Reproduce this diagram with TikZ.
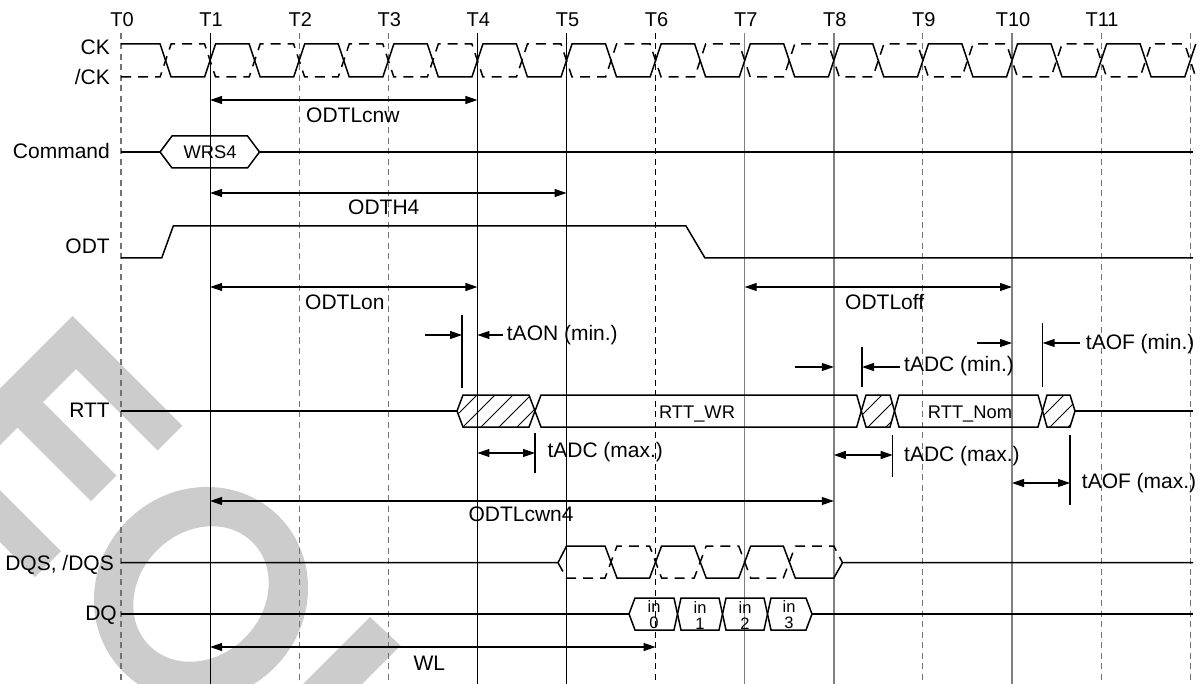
\documentclass[tikz,border=0pt]{standalone}
\usepackage{fontspec}
\setmainfont{Liberation Sans}
\usetikzlibrary{arrows.meta}
\begin{document}
\begin{tikzpicture}[x=1pt,y=-1pt,
  sig/.style={line width=1.5pt, line join=miter},
  sigd/.style={sig, dash pattern=on 10pt off 7pt},
  gsolid/.style={line width=1.1pt},
  ggray/.style={line width=1.4pt, black!50},
  gdash/.style={line width=1.1pt, black!55, dash pattern=on 6pt off 4.5pt},
  gdashk/.style={line width=1.1pt, dash pattern=on 6pt off 4.5pt},
  dimline/.style={line width=1.1pt},
  onetip/.style={dimline, -{Triangle[length=12pt,width=8pt]}},
  twotip/.style={dimline, {Triangle[length=12pt,width=8pt]}-{Triangle[length=12pt,width=8pt]}},
  lbl/.style={font=\fontsize{21}{21}\selectfont, inner sep=0pt},
  tlbl/.style={font=\fontsize{20}{20}\selectfont, inner sep=0pt, anchor=base},
  boxlbl/.style={font=\fontsize{18.3}{18.3}\selectfont, inner sep=0pt, anchor=base},
  inlbl/.style={font=\fontsize{16.5}{16}\selectfont, inner sep=0pt, anchor=south, align=center},
  wm/.style={fill=black!20, draw=none},
  hatchline/.style={line width=1pt},
]
\useasboundingbox (0,0) rectangle (1204,684);
\clip (0,0) rectangle (1204,684);
% watermark
\fill[wm] (72.7,316) -- (182.4,425.7) -- (157.5,450.5) -- (76,369) -- (43,402) -- (116.5,475.5) -- (91,501) -- (17.5,427.5) -- (-22.5,467.5) -- (61,551) -- (35,577) -- (-76.7,465.4) -- cycle;
\fill[wm, even odd rule, rotate around={45:(201,594)}] (201,594) ellipse [x radius=110, y radius=104] (201,594) ellipse [x radius=73, y radius=62];
\fill[wm] (370,617) -- (400.5,645.5) -- (223,823) -- (193.5,793.5) -- cycle;

% time grid
\foreach \i in {0,...,12} {
  \coordinate (T\i) at ({121+89.1*\i},33);
  \coordinate (B\i) at ({121+89.1*\i},684);
}
\foreach \i in {0,...,11} \node[tlbl] (lT\i) at ({122+89.1*\i},27) {T\i};
\foreach \i in {0,2,3,9,11,12} \draw[gdash] (T\i) -- (B\i);
\draw[gdashk] (T6) -- (B6);
\foreach \i in {1,4,5} \draw[gsolid] (T\i) -- (B\i);
\foreach \i in {7,8,10} \draw[ggray] (T\i) -- (B\i);

% signal labels
\node[lbl, anchor=base east] (lCK) at (110,55) {CK};
\node[lbl, anchor=base east] (lCKb) at (110,84.5) {/CK};
\node[lbl, anchor=base east] (lCmd) at (110,158.5) {Command};
\node[lbl, anchor=base east] (lODT) at (110,254) {ODT};
\node[lbl, anchor=base east] (lRTT) at (110,417.7) {RTT};
\node[lbl, anchor=base east] (lDQS) at (114,570.7) {DQS, /DQS};
\node[lbl, anchor=base east] (lDQ) at (117,620.7) {DQ};

% clock
\draw[sig] (121,44) \foreach \j in {0,...,11} { -- ({160.05+89.1*\j},44) -- ({171.05+89.1*\j},77) -- ({204.6+89.1*\j},77) -- ({215.6+89.1*\j},44) };
\draw[sigd] (121,77) \foreach \j in {0,...,11} { -- ({160.05+89.1*\j},77) -- ({171.05+89.1*\j},44) -- ({204.6+89.1*\j},44) -- ({215.6+89.1*\j},77) };

% command
\draw[sig] (121,152) -- (160,152);
\draw[sig] (160,152) -- (172,136) -- (247.5,136) -- (259.5,152) -- (247.5,168) -- (172,168) -- cycle;
\node[boxlbl] (wrs) at (210,158.3) {WRS4};
\draw[sig] (259.5,152) -- (1193,152);

% ODTLcnw
\draw[twotip] (T1 |- 0,100) -- (T4 |- 0,100);
\node[lbl, anchor=base west] (odtlcnw) at (306,122.7) {ODTLcnw};
% ODTH4
\draw[twotip] (T1 |- 0,193) -- (T5 |- 0,193);
\node[lbl, anchor=base west] (odth4) at (348,215) {ODTH4};

% ODT
\draw[sig] (121,258) -- (161.7,258) -- (173.3,226) -- (686,226) -- (705,258) -- (1193,258);

% ODTLon / ODTLoff
\draw[twotip] (T1 |- 0,287) -- (T4 |- 0,287);
\node[lbl, anchor=base west] (odtlon) at (305,309.3) {ODTLon};
\draw[twotip] (T7 |- 0,287) -- (T10 |- 0,287);
\node[lbl, anchor=base west] (odtloff) at (845,309.3) {ODTLoff};

% tAON (min.)
\draw[dimline] (462,315) -- (462,388);
\draw[onetip] (425,335) -- (462,335);
\draw[onetip] (503,335) -- (T4 |- 0,335);
\node[lbl, anchor=base west] (taon) at (506.7,340.7) {tAON (min.)};

% tADC (min.)
\draw[dimline] (862,347) -- (862,387);
\draw[onetip] (795,367) -- (T8 |- 0,367);
\draw[onetip] (900,367) -- (862,367);
\node[lbl, anchor=base west] (tadcmin) at (904,371.7) {tADC (min.)};

% tAOF (min.)
\draw[dimline] (1042.7,323) -- (1042.7,387);
\draw[onetip] (977,343) -- (T10 |- 0,343);
\draw[onetip] (1080,343) -- (1042.7,343);
\node[lbl, anchor=base west] (taofmin) at (1085.7,349) {tAOF (min.)};

% RTT
\draw[sig] (121,411) -- (457,411);
\begin{scope}
  \clip (457,411) -- (463,395) -- (529,395) -- (535,411) -- (529,427) -- (463,427) -- cycle;
  \foreach \x in {445,463,...,535} \draw[hatchline] (\x,427) -- ++(32,-32);
\end{scope}
\draw[sig] (457,411) -- (463,395) -- (529,395) -- (535,411) -- (529,427) -- (463,427) -- cycle;
\draw[sig] (535,411) -- (541,395) -- (856.7,395) -- (861.3,411) -- (856.7,427) -- (541,427) -- cycle;
\node[boxlbl] (rttwr) at (697,418.3) {RTT\_WR};
\begin{scope}
  \clip (861.3,411) -- (866,395) -- (890,395) -- (894.5,411) -- (890,427) -- (866,427) -- cycle;
  \foreach \x in {850,868,886} \draw[hatchline] (\x,427) -- ++(32,-32);
\end{scope}
\draw[sig] (861.3,411) -- (866,395) -- (890,395) -- (894.5,411) -- (890,427) -- (866,427) -- cycle;
\draw[sig] (894.5,411) -- (899,395) -- (1038,395) -- (1042.5,411) -- (1038,427) -- (899,427) -- cycle;
\node[boxlbl] (rttnom) at (970,418.3) {RTT\_Nom};
\begin{scope}
  \clip (1042.5,411) -- (1047,395) -- (1070,395) -- (1075,411) -- (1070,427) -- (1047,427) -- cycle;
  \foreach \x in {1032,1050,1068} \draw[hatchline] (\x,427) -- ++(32,-32);
\end{scope}
\draw[sig] (1042.5,411) -- (1047,395) -- (1070,395) -- (1075,411) -- (1070,427) -- (1047,427) -- cycle;
\draw[sig] (1075,411) -- (1193,411);

% tADC (max.) 1
\draw[dimline] (535,433) -- (535,473);
\draw[twotip] (T4 |- 0,453) -- (535,453);
\node[lbl, anchor=base west] (tadcmax1) at (547.3,457.3) {tADC (max.)};
% tADC (max.) 2
\draw[dimline] (892.7,435) -- (892.7,477);
\draw[twotip] (T8 |- 0,455) -- (892.7,455);
\node[lbl, anchor=base west] (tadcmax2) at (904,461) {tADC (max.)};
% tAOF (max.)
\draw[dimline] (1070,435) -- (1070,505);
\draw[twotip] (T10 |- 0,483) -- (1070,483);
\node[lbl, anchor=base west] (taofmax) at (1081.7,488.3) {tAOF (max.)};

% ODTLcwn4
\draw[twotip] (T1 |- 0,501) -- (T8 |- 0,501);
\node[lbl, anchor=base west] (odtlcwn4) at (468.3,521.7) {ODTLcwn4};

% DQS
\draw[sig] (121,562.7) -- (558,562.7) -- (566.5,546) -- (605,546) -- (617,578) -- (649.6,578) -- (661.6,546) -- (694.2,546) -- (706.2,578) -- (738.7,578) -- (750.7,546) -- (783.3,546) -- (795.3,578) -- (833.8,578) -- (842.5,562.7) -- (1193,562.7);
\draw[sigd] (558,562.7) -- (566.5,578) -- (605,578) -- (617,546) -- (649.6,546) -- (661.6,578) -- (694.2,578) -- (706.2,546) -- (738.7,546) -- (750.7,578) -- (783.3,578) -- (795.3,546) -- (833.8,546) -- (842.5,562.7);

% DQ
\draw[sig] (121,614) -- (629,614);
\draw[sig] (629,614) -- (635,598) -- (674,598) -- (677.5,614) -- (674,630) -- (635,630) -- cycle;
\draw[sig] (677.5,614) -- (681,598) -- (719,598) -- (722.5,614) -- (719,630) -- (681,630) -- cycle;
\draw[sig] (722.5,614) -- (726,598) -- (764,598) -- (767.5,614) -- (764,630) -- (726,630) -- cycle;
\draw[sig] (767.5,614) -- (771,598) -- (806,598) -- (812,614) -- (806,630) -- (771,630) -- cycle;
\draw[sig] (812,614) -- (1193,614);
\node[inlbl] (in0) at (654,629.3) {in\\0};
\node[inlbl] (in1) at (700,629.3) {in\\1};
\node[inlbl] (in2) at (745,629.3) {in\\2};
\node[inlbl] (in3) at (789,629.3) {in\\3};

% WL
\draw[twotip] (T1 |- 0,647) -- (T6 |- 0,647);
\node[lbl, anchor=base west] (wl) at (413.3,670) {WL};
\end{tikzpicture}
\end{document}
